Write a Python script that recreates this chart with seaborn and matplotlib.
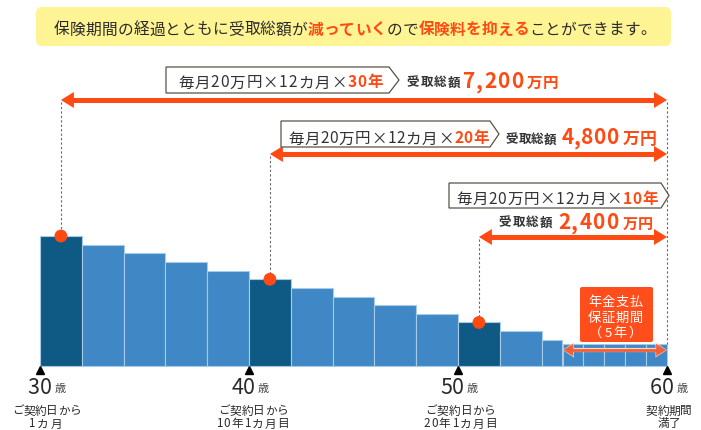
import matplotlib
matplotlib.use("Agg")
import matplotlib.pyplot as plt
import seaborn as sns
from matplotlib.patches import Polygon, FancyBboxPatch
from matplotlib.lines import Line2D
from matplotlib.transforms import IdentityTransform
from matplotlib.font_manager import FontProperties

# ---------------- data ----------------
bar_start_age = [30, 32, 34, 36, 38, 40, 42, 44, 46, 48, 50, 52, 54, 55, 56, 57, 58, 59]
bar_span_years = [2, 2, 2, 2, 2, 2, 2, 2, 2, 2, 2, 2, 1, 1, 1, 1, 1, 1]
bar_total_man_yen = [7200, 6720, 6240, 5760, 5280, 4800, 4320, 3840, 3360, 2880,
                     2400, 1920, 1440, 1200, 1200, 1200, 1200, 1200]
highlight_start_age = [30, 40, 50]
received_years = [30, 20, 10]
monthly_man_yen = 20
months_per_year = 12
end_age = 60
guarantee_years = 5
tick_age = [30, 40, 50, 60]
tick_caption_1 = ["ご契約日から", "ご契約日から", "ご契約日から", "契約期間"]
tick_caption_2 = ["1カ月", "10年1カ月目", "20年1カ月目", "満了"]
headline_parts = ["保険期間の経過とともに受取総額が", "減っていく", "ので", "保険料を抑える", "ことができます。"]
headline_emph = [False, True, False, True, False]
guarantee_lines = ["年金支払", "保証期間"]

# ---------------- style / layout ----------------
W, H = 701, 431
PX_AGE30 = 40.0
PX_PER_YEAR = 20.9
PY_BASE = 366.7
PX_PER_VAL = 129.7 / 7200.0

DARK_BAR = "#0f5a84"
LIGHT_BAR = "#3f88c5"
BAR_EDGE = "#a6cbe9"
ORANGE = "#ff4a14"
TEXT = "#2a2a2a"
FONT = ["Noto Sans CJK JP", "DejaVu Sans"]

sns.set_theme(style="white")
plt.rcParams["font.family"] = FONT

fig = plt.figure(figsize=(W / 100, H / 100), dpi=100, facecolor="white")
ax = fig.add_axes([0, 0, 1, 1])
ax.set_axis_off()
ax.set_xlim(30 - PX_AGE30 / PX_PER_YEAR, 30 + (W - PX_AGE30) / PX_PER_YEAR)
ax.set_ylim((PY_BASE - H) / PX_PER_VAL, PY_BASE / PX_PER_VAL)


def val_at_py(py):
    return (PY_BASE - py) / PX_PER_VAL


def xd(age):
    return ax.transData.transform((age, 0))[0]


renderer = fig.canvas.get_renderer()
IDT = IdentityTransform()


def fprop(size, weight="normal"):
    return FontProperties(family=FONT, size=size, weight=weight)


def put_chars(pieces, base_py, x0=None, x1=None, cx=None, gap=1.0, zorder=20):
    items = []
    for text, size, color, weight in pieces:
        fp = fprop(size, weight)
        for ch in text:
            w = renderer.get_text_width_height_descent(ch, fp, ismath=False)[0]
            items.append((ch, fp, color, w))
    ink = sum(i[3] for i in items)
    n = len(items)
    if x0 is not None:
        gap = (x1 - x0 - ink) / (n - 1) if n > 1 else 0
        x = x0 if n > 1 else (x0 + x1 - ink) / 2
    else:
        x = cx - (ink + gap * (n - 1)) / 2
    for ch, fp, color, w in items:
        fig.text(x, H - base_py, ch, transform=IDT, fontproperties=fp, color=color,
                 ha="left", va="baseline", zorder=zorder)
        x += w + gap


def double_arrow(a0, a1, py, color, lw_px, hl, hh, zorder=6):
    x0, x1 = xd(a0), xd(a1)
    y = H - py
    fig.add_artist(Line2D([x0 + hl * 0.7, x1 - hl * 0.7], [y, y], transform=IDT, color=color,
                          lw=lw_px * 0.72, solid_capstyle="butt", zorder=zorder))
    for tip, base in ((x0, x0 + hl), (x1, x1 - hl)):
        fig.add_artist(Polygon([[tip, y], [base, y + hh], [base, y - hh]], closed=True,
                               transform=IDT, fc=color, ec="none", zorder=zorder))


# ---------------- bars ----------------
colors = [DARK_BAR if a in highlight_start_age else LIGHT_BAR for a in bar_start_age]
ax.bar(bar_start_age, bar_total_man_yen, width=bar_span_years, align="edge",
       color=colors, edgecolor=BAR_EDGE, linewidth=0.8, zorder=2)

value_of = dict(zip(bar_start_age, bar_total_man_yen))
dot_x = [a + 1 for a in highlight_start_age]
dot_y = [value_of[a] for a in highlight_start_age]
sns.scatterplot(x=dot_x, y=dot_y, ax=ax, s=85, color=ORANGE, edgecolor="none",
                zorder=6, legend=False)

# axis tick triangles
ax.plot(tick_age, [val_at_py(370.8)] * len(tick_age), ls="none", marker="^",
        ms=5.6, color="black", zorder=3, clip_on=False)

# ---------------- arrows and guide lines ----------------
ARROW_PY = [101, 155, 238]
for a, v, py in zip(dot_x, dot_y, ARROW_PY):
    ax.plot([a, a], [val_at_py(py + 2), v], ls=(0, (2, 2)), color="#666666", lw=0.8, zorder=3)
    double_arrow(a, end_age, py, ORANGE, 5, 13, 8)
ax.plot([end_age, end_age], [val_at_py(ARROW_PY[0] + 2), bar_total_man_yen[-1]],
        ls=(0, (2, 2)), color="#666666", lw=0.8, zorder=3)

# guarantee arrow inside last bars
g_start = end_age - guarantee_years
double_arrow(g_start, end_age, 351, "#fbd3c4", 4.2, 11.5, 7.5, zorder=7)
double_arrow(g_start + 0.04, end_age - 0.04, 351, "#f2603a", 2.8, 10, 6.2, zorder=8)

# ---------------- headline banner ----------------
fig.add_artist(FancyBboxPatch((36, H - 47), 635, 39, boxstyle="round,pad=0,rounding_size=6",
                              transform=IDT, fc="#fff493", ec="none", zorder=1))
head_pieces = [(t, 11.3, ORANGE if e else TEXT, "bold" if e else "normal")
               for t, e in zip(headline_parts, headline_emph)]
put_chars(head_pieces, 34.5, x0=54, x1=656)

# ---------------- formula boxes ----------------
BOXES = [  # left, right, tip, top, bottom, text x0, x1, baseline
    (166, 389, 399, 68, 94, 178, 383, 87.5),
    (281, 490, 499, 122, 148, 288, 489, 143.5),
    (449, 661, 669, 184, 209, 456, 658, 204),
]
TOTALS = [  # label x0,x1,base ; number x0,x1 ; unit x0,x1,size ; base
    (407, 460, 86.5, 463, 523, 527, 558, 11.2, 88.3),
    (506, 556, 143.5, 562, 618, 623, 657, 12.2, 144.3),
    (499, 552, 226.5, 558, 618, 623, 653, 10.9, 229.3),
]
for yrs, bx, tt in zip(received_years, BOXES, TOTALS):
    l, r, tip, top, bot, tx0, tx1, tb = bx
    mid = (top + bot) / 2
    fig.add_artist(Polygon([[l, H - top], [r, H - top], [tip, H - mid], [r, H - bot], [l, H - bot]],
                           closed=True, transform=IDT, fc="white", ec="#5a5345", lw=0.9, zorder=9))
    put_chars([(f"毎月{monthly_man_yen}万円×{months_per_year}カ月×", 11.2, "#333333", "normal"),
               (f"{yrs}年", 11.2, ORANGE, "bold")], tb, x0=tx0, x1=tx1)
    lx0, lx1, lb, nx0, nx1, ux0, ux1, us, nb = tt
    total = monthly_man_yen * months_per_year * yrs
    put_chars([("受取総額", 9, "#333333", "bold")], lb, x0=lx0, x1=lx1)
    put_chars([(f"{total:,}", 15, ORANGE, "bold")], nb, x0=nx0, x1=nx1)
    put_chars([("万円", us, ORANGE, "bold")], nb - 0.5, x0=ux0, x1=ux1)

# ---------------- guarantee label ----------------
fig.add_artist(FancyBboxPatch((580, H - 343), 73, 55, boxstyle="round,pad=0,rounding_size=2",
                              transform=IDT, fc="#ff4d1c", ec="none", zorder=9))
put_chars([(guarantee_lines[0], 9.5, "white", "normal")], 306, x0=588, x1=643)
put_chars([(guarantee_lines[1], 9.5, "white", "normal")], 322, x0=588, x1=643)
put_chars([(f"（{guarantee_years}年）", 9.5, "white", "normal")], 337, x0=589, x1=642)

# ---------------- x labels ----------------
NUM_DX = [(-13, 12), (-17, 6), (-18, 6), (-17, 7)]
CAP1 = [(6.5, 69), (4, 70), (2.5, 71), (2, 46)]
CAP2 = [(5, 34), (3.5, 73), (2, 74), (2, 22)]
for i, a in enumerate(tick_age):
    px = xd(a)
    n0, n1 = NUM_DX[i]
    put_chars([(str(a), 15.5, TEXT, "normal")], 394.5, x0=px + n0, x1=px + n1)
    put_chars([("歳", 8, "#444444", "normal")], 392, x0=px + n1 + 2.5, x1=px + n1 + 14)
    c, w = CAP1[i]
    put_chars([(tick_caption_1[i], 8.4, TEXT, "normal")], 414.5, x0=px + c - w / 2, x1=px + c + w / 2)
    c, w = CAP2[i]
    put_chars([(tick_caption_2[i], 8.4, TEXT, "normal")], 427.5, x0=px + c - w / 2, x1=px + c + w / 2)

fig.savefig("out.png", dpi=100, facecolor="white")
